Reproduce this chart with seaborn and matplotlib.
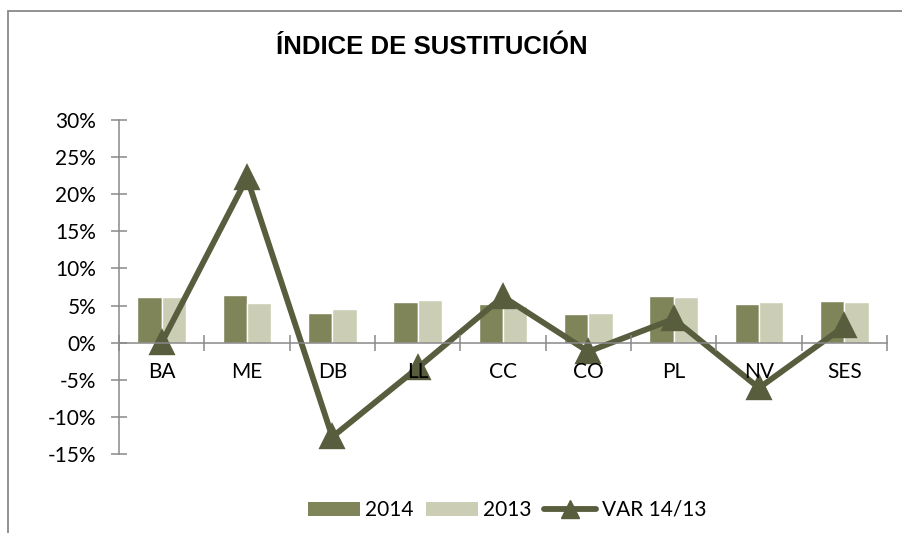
import numpy as np
import pandas as pd
import matplotlib
matplotlib.use('Agg')
import matplotlib.pyplot as plt
import matplotlib.patches as mpatches
from matplotlib.lines import Line2D
from matplotlib.ticker import FuncFormatter, FixedLocator
import seaborn as sns

# values (in %)
categories = ['BA', 'ME', 'DB', 'LL', 'CC', 'CO', 'PL', 'NV', 'SES']
val_2014 = [6.2, 6.45, 4.0, 5.5, 5.2, 3.85, 6.3, 5.2, 5.55]
val_2013 = [6.2, 5.3, 4.6, 5.7, 5.0, 3.95, 6.1, 5.5, 5.45]
var_14_13 = [0.0, 22.2, -12.7, -3.4, 6.2, -1.2, 3.2, -6.1, 2.2]
y_ticks = [-15, -10, -5, 0, 5, 10, 15, 20, 25, 30]

c2014 = '#7f8558'
c2013 = '#cbceb5'
cline = '#585d3e'
cgray = '#898989'

sns.set_style('white')
plt.rcParams['font.family'] = ['Lato', 'DejaVu Sans']
plt.rcParams['axes.unicode_minus'] = False
plt.rcParams['text.color'] = 'black'

#long table for the grouped bars
df = pd.DataFrame({
    'cat': categories * 2,
    'val': val_2014 + val_2013,
    'year': ['2014'] * len(categories) + ['2013'] * len(categories),
})

fig = plt.figure(figsize=(9.02, 5.33), dpi=100)
ax = fig.add_axes([119/902, 1 - 454/533, (887-119)/902, (454-120)/533])

sns.barplot(data=df, x='cat', y='val', hue='year',
            palette={'2014': c2014, '2013': c2013},
            width=0.57, saturation=1, gap=0, ax=ax, legend=False)
sns.pointplot(x=categories, y=var_14_13, color=cline, marker='^',
              markersize=15, linewidth=4.2, errorbar=None, ax=ax)
for ln in ax.lines:
    ln.set_zorder(2)

ax.set_xlim(-0.5, len(categories) - 0.5)
ax.set_ylim(-15, 30)
ax.set_xlabel('')
ax.set_ylabel('')

# spines: y axis on the left, x axis through zero
for s in ['top', 'right']:
    ax.spines[s].set_visible(False)
ax.spines['bottom'].set_position(('data', 0))
for s in ['left', 'bottom']:
    ax.spines[s].set_color(cgray)
    ax.spines[s].set_linewidth(1.1)

ax.yaxis.set_major_locator(FixedLocator(y_ticks))
ax.yaxis.set_major_formatter(FuncFormatter(lambda v, p: f'{int(round(v))}%'))
ax.tick_params(axis='y', which='major', left=True, direction='inout', length=11,
               width=1.1, color=cgray, pad=11, labelsize=15, labelcolor='black')

ax.set_xticks(range(len(categories)))
ax.set_xticklabels(categories)
ax.xaxis.set_minor_locator(FixedLocator(np.arange(-0.5, len(categories), 1.0)))
ax.tick_params(axis='x', which='major', bottom=True, length=0, pad=14,
               labelsize=15, labelcolor='black')
ax.tick_params(axis='x', which='minor', bottom=True, direction='inout',
               length=11, width=1.1, color=cgray)
ax.xaxis.set_zorder(5)
ax.grid(False)

fig.text(432/902, 1 - 54/533, 'ÍNDICE DE SUSTITUCIÓN', ha='center',
         va='baseline', fontsize=18.5, fontweight='bold', color='black',
         family=['Liberation Sans', 'DejaVu Sans'])

handles = [
    mpatches.Patch(facecolor=c2014, edgecolor='none', label='2014'),
    mpatches.Patch(facecolor=c2013, edgecolor='none', label='2013'),
    Line2D([0], [0], color=cline, lw=4.2, marker='^', markersize=13,
           label='VAR 14/13'),
]
fig.legend(handles=handles, loc='center', bbox_to_anchor=(507/902, 1 - 510/533),
           ncol=3, frameon=False, fontsize=15, handlelength=2.5,
           handleheight=0.65, handletextpad=0.25, columnspacing=0.6)

# outer chart frame, clipped at right and bottom like the reference
fig.patches.append(mpatches.Rectangle((8/902, -0.1), 1.0, 1.1 - 11/533,
                                      transform=fig.transFigure, fill=False,
                                      edgecolor=cgray, lw=1.3))

fig.savefig('out.png', dpi=100)
